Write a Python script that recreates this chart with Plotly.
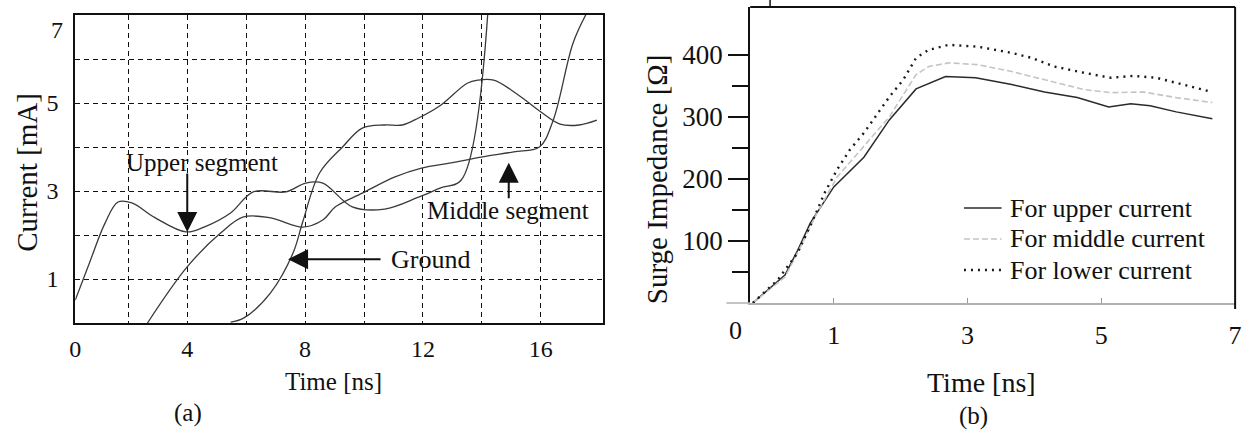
import plotly.graph_objects as go

# ---------------- (a) current waveforms ----------------
upper_t = [0.2, 0.7, 1.21, 1.65, 2.12, 2.89, 3.96, 4.57, 5.47, 6.24, 7.35, 8.02, 8.6,
           9.6, 10.7, 11.85, 12.6, 13.3, 14.2]
upper_i = [0.52, 1.4, 2.27, 2.75, 2.73, 2.40, 2.07, 2.18, 2.5, 2.98, 2.98, 3.18, 3.18,
           2.64, 2.59, 2.86, 3.07, 3.25, 7.05]

middle_t = [2.65, 3.99, 5.14, 5.91, 6.82, 7.92, 8.6, 9.03, 9.94, 11.05, 11.95, 12.96,
            13.97, 15.08, 15.95, 16.42, 17.09, 17.56]
middle_i = [0.0, 1.27, 2.05, 2.41, 2.39, 2.18, 2.34, 2.64, 2.95, 3.32, 3.52, 3.64,
            3.77, 3.89, 4.0, 4.61, 6.36, 7.05]

ground_t = [5.47, 5.91, 6.82, 7.59, 7.92, 8.49, 9.27, 9.94, 10.7, 11.3, 11.85, 12.6,
            13.5, 13.86, 14.4, 15.2, 15.99, 16.65, 17.3, 17.9]
ground_i = [0.02, 0.11, 0.68, 1.59, 2.3, 3.41, 4.0, 4.43, 4.5, 4.5, 4.66, 4.95,
            5.45, 5.52, 5.52, 5.2, 4.8, 4.52, 4.5, 4.61]

a_xticks = [0.2, 2, 4, 6, 8, 10, 12, 14, 16]
a_xlabels = ["0", "", "4", "", "8", "", "12", "", "16"]
a_yticks = [1, 2, 3, 4, 5, 6]
a_ylabels = ["1", "", "3", "", "5", ""]

# ---------------- (b) surge impedance ----------------
b_upper_t = [-0.21, 0.27, 0.46, 0.65, 1.0, 1.45, 1.83, 2.23, 2.67, 3.12, 3.66, 4.15,
             4.64, 5.11, 5.44, 5.73, 6.12, 6.66]
b_upper_z = [0, 45, 85, 129, 187, 235, 295, 345, 365, 363, 352, 340,
             331, 316, 321, 318, 308, 297]

b_middle_t = [-0.21, 0.27, 0.46, 0.75, 1.05, 1.45, 1.83, 2.23, 2.42, 2.72, 3.16, 3.66,
              4.15, 4.74, 5.14, 5.63, 6.12, 6.66]
b_middle_z = [0, 42, 81, 145, 203, 252, 300, 368, 381, 387, 384, 373,
              360, 344, 339, 340, 331, 323]

b_lower_t = [-0.21, 0.16, 0.46, 0.71, 0.86, 1.05, 1.24, 1.45, 1.64, 1.83, 2.04, 2.23,
             2.42, 2.72, 3.16, 3.66, 3.96, 4.3, 4.74, 5.14, 5.48, 5.82, 6.22, 6.66]
b_lower_z = [0, 37, 81, 139, 177, 215, 247, 274, 303, 332, 360, 395,
             408, 416, 413, 403, 395, 381, 371, 363, 366, 363, 352, 340]

b_xticks = [1, 3, 5, 7]
b_yticks = [100, 200, 300, 400]
b_minor_yticks = [50, 150, 250, 350]
b_legend = ["For upper current", "For middle current", "For lower current"]

W, H = 1253, 443
SERIF = "Liberation Serif, Times New Roman, serif"


def px(x):
    return x / W


def py(y):
    return 1 - y / H


fig = go.Figure()

curve_style = dict(color="#3a3a3a", width=1.3)
for t, i, name in [(upper_t, upper_i, "Upper segment"),
                   (middle_t, middle_i, "Middle segment"),
                   (ground_t, ground_i, "Ground")]:
    fig.add_trace(go.Scatter(x=t, y=i, mode="lines", line=curve_style, name=name,
                             showlegend=False, xaxis="x", yaxis="y",
                             line_shape="spline"))

b_styles = [dict(color="#2a2a2a", width=1.5),
            dict(color="#c4c4c4", width=1.6, dash="6px,3px"),
            dict(color="#1a1a1a", width=2.4, dash="2px,5px")]
for t, z, name, st in zip([b_upper_t, b_middle_t, b_lower_t],
                          [b_upper_z, b_middle_z, b_lower_z], b_legend, b_styles):
    fig.add_trace(go.Scatter(x=t, y=z, mode="lines", name=name, line=st,
                             showlegend=False, xaxis="x2", yaxis="y2"))

grid = dict(showgrid=True, gridcolor="#111", gridwidth=1.4, griddash="5px,4px")

fig.update_layout(
    width=W, height=H,
    margin=dict(l=0, r=0, t=0, b=0),
    paper_bgcolor="white", plot_bgcolor="white",
    font=dict(family=SERIF, color="#111", size=24),
    showlegend=False,
    xaxis=dict(domain=[px(70), px(603)], range=[0.2, 18.1], anchor="y",
               tickmode="array", tickvals=a_xticks, ticktext=a_xlabels,
               ticks="", ticklabelstandoff=3, zeroline=False,
               showline=True, linecolor="#111", linewidth=2, mirror=True,
               tickfont=dict(size=24), **grid),
    yaxis=dict(domain=[py(323), py(15)], range=[0, 7], anchor="x",
               tickmode="array", tickvals=a_yticks, ticktext=a_ylabels,
               ticks="", ticklabelstandoff=10, zeroline=False,
               showline=True, linecolor="#111", linewidth=2, mirror=True,
               tickfont=dict(size=24), **grid),
    xaxis2=dict(domain=[px(752), px(1242)], range=[-0.25, 7], anchor="y2",
                tickmode="array", tickvals=b_xticks,
                ticks="inside", ticklen=5, tickcolor="#999", ticklabelstandoff=8,
                showgrid=False, zeroline=False,
                showline=True, linecolor="#b0b0b0", linewidth=1.5,
                tickfont=dict(size=26)),
    yaxis2=dict(domain=[py(303), py(7)], range=[0, 477], anchor="x2",
                tickmode="array", tickvals=b_yticks,
                ticks="outside", ticklen=20, tickwidth=2, tickcolor="#111",
                minor=dict(ticks="outside", ticklen=16, tickwidth=2, tickcolor="#111",
                           tickmode="array", tickvals=b_minor_yticks),
                showgrid=False, zeroline=False,
                showline=True, linecolor="#111", linewidth=2,
                tickfont=dict(size=27)),
)

# frame of panel (b): top and right edges, base line stub and top tick
frame = dict(xref="x2 domain", yref="y2 domain", type="line")
fig.add_shape(x0=0, x1=1, y0=1, y1=1, line=dict(color="#111", width=2), **frame)
fig.add_shape(x0=1, x1=1, y0=-0.02, y1=1, line=dict(color="#111", width=2), **frame)
fig.add_shape(x0=-0.049, x1=0, y0=0, y1=0, line=dict(color="#b0b0b0", width=1.5), **frame)
fig.add_shape(x0=0.041, x1=0.041, y0=1, y1=1.024, line=dict(color="#111", width=1.5), **frame)

ann = []


def label(text, x, y, size, angle=0):
    ann.append(dict(text=text, x=px(x), y=py(y), xref="paper", yref="paper",
                    xanchor="center", yanchor="middle", showarrow=False,
                    textangle=angle, font=dict(size=size)))


label("7", 52, 30, 24)
label("Current [mA]", 21, 172, 29, -90)
label("Time [ns]", 331, 381, 25)
label("(a)", 184, 413, 25)
label("Surge Impedance [Ω]", 658, 179, 29, -90)
label("Time [ns]", 986, 382, 28)
label("(b)", 978, 416, 25)
label("0", 737, 330, 26)

# legend of panel (b): key line + text per row
for k, (name, st) in enumerate(zip(b_legend, b_styles)):
    yrow = 208 + 31 * k
    fig.add_shape(type="line", xref="paper", yref="paper",
                  x0=px(968), x1=px(1006), y0=py(yrow), y1=py(yrow), line=st)
    ann.append(dict(text=name, x=px(1012), y=py(yrow), xref="paper", yref="paper",
                    xanchor="left", yanchor="middle", showarrow=False,
                    font=dict(size=26)))

# callouts in panel (a)
for text, x, y, size in [("Upper segment", 4.5, 3.64, 25),
                         ("Middle segment", 14.9, 2.55, 25),
                         ("Ground", 12.25, 1.45, 26)]:
    ann.append(dict(text=text, x=x, y=y, xref="x", yref="y", xanchor="center",
                    yanchor="middle", showarrow=False, font=dict(size=size)))

arrow = dict(text="", showarrow=True, arrowhead=2, arrowsize=2, arrowwidth=2,
             arrowcolor="#111", xref="x", yref="y", axref="x", ayref="y")
ann.append(dict(x=4.0, y=2.07, ax=4.0, ay=3.43, **arrow))
ann.append(dict(x=7.42, y=1.45, ax=10.61, ay=1.45, **arrow))
ann.append(dict(x=14.91, y=3.64, ax=14.91, ay=2.8, **arrow))

fig.update_layout(annotations=ann)

fig.write_html("out.html")
